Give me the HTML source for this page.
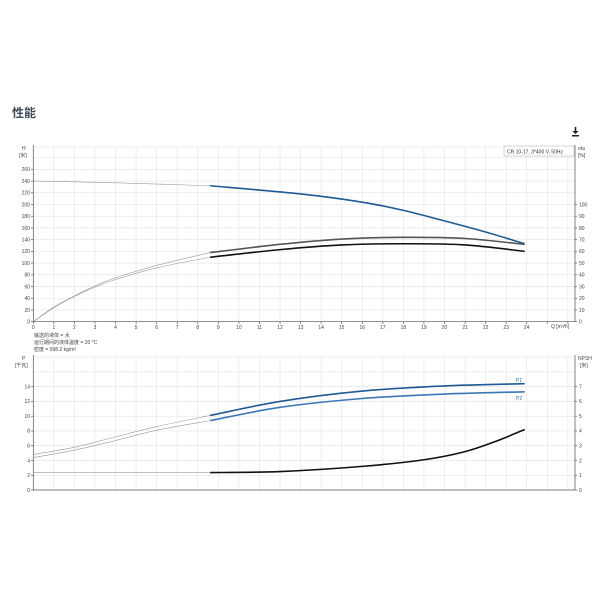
<!DOCTYPE html>
<html><head><meta charset="utf-8"><style>
body{margin:0;background:#fff;width:600px;height:600px;overflow:hidden}
svg{font-family:"Liberation Sans","Noto Sans CJK SC",sans-serif}
</style></head><body>
<svg id="s" width="600" height="600" viewBox="0 0 600 600">
<text x="12" y="117" font-size="12" font-weight="bold" fill="#3d4d5c">性能</text>
<g fill="#222"><rect x="572" y="135" width="7" height="1.5"/><rect x="574.7" y="127" width="1.6" height="5"/><path d="M572.3 131h6.4l-3.2 3z"/></g>
<g id="grid" stroke="#e2e2e2" stroke-width="0.6"></g>
<g id="axes" stroke="#555" stroke-width="0.7" fill="none"></g>
<g font-size="5" fill="#444">
<text x="22" y="150">H</text><text x="19" y="157">[米]</text>
<text x="578" y="150">eta</text><text x="578" y="157">[%]</text>
<g id="lab"></g>
<text x="551" y="328">Q [m³/h]</text>
<text x="34" y="337">输送的液体 = 水</text>
<text x="34" y="344">运行期间的液体温度 = 20 °C</text>
<text x="34" y="351">密度 = 998.2 kg/m³</text>
<text x="22" y="360">P</text><text x="15" y="367">[千瓦]</text>
<text x="578" y="360">NPSH</text><text x="580" y="367">[米]</text>
<text x="516" y="382" fill="#2a6aa8">P1</text>
<text x="516" y="400" fill="#2a6aa8">P2</text>
</g>
<rect x="504" y="146" width="70" height="10" fill="#fff" stroke="#aaa" stroke-width="0.5"/>
<text x="507" y="153.5" font-size="5" fill="#333">CR 10-17, 3*400 V, 50Hz</text>
<g id="curves" fill="none"></g>
</svg>
<script>
const NS="http://www.w3.org/2000/svg";
function el(p,t,a){const e=document.createElementNS(NS,t);for(const k in a)e.setAttribute(k,a[k]);p.appendChild(e);return e;}
const X=q=>33.3+20.56*q, Y=h=>321.7-0.586*h, YB=p=>490-7.38*p, YN=n=>490-14.76*n;
const g=document.getElementById('grid'),ax=document.getElementById('axes');
for(let q=1;q<=26;q++){const x=q<=26?X(q):575;if(x<575){el(g,'line',{x1:x,y1:147,x2:x,y2:321.7});el(g,'line',{x1:x,y1:357,x2:x,y2:490});}}
for(let h=20;h<=280;h+=20)el(g,'line',{x1:33.3,y1:Y(h),x2:575,y2:Y(h)});
for(let p=2;p<=16;p+=2)el(g,'line',{x1:33.3,y1:YB(p),x2:575,y2:YB(p)});
el(g,'rect',{x:33.3,y:147,width:541.7,height:174.7,fill:'none'});
el(g,'rect',{x:33.3,y:357,width:541.7,height:133,fill:'none'});
el(ax,'line',{x1:33.3,y1:145,x2:33.3,y2:322});el(ax,'line',{x1:33.3,y1:321.7,x2:575,y2:321.7});
el(ax,'line',{x1:575,y1:145,x2:575,y2:322});
el(ax,'line',{x1:33.3,y1:355,x2:33.3,y2:490});el(ax,'line',{x1:33.3,y1:490,x2:575,y2:490});
el(ax,'line',{x1:575,y1:355,x2:575,y2:490});
</script>
<script>
const lab=document.getElementById('lab');
function t(x,y,s,anc){const e=el(lab,'text',{x:x,y:y,'text-anchor':anc||'middle'});e.textContent=s;}
</script>
<svg width="0" height="0"></svg>
<script>
// tick marks only (labels are static below)
for(let q=0;q<=26;q++){const x=X(q);if(x<=575)el(ax,'line',{x1:x,y1:321.7,x2:x,y2:324});}
for(let h=0;h<=260;h+=20)el(ax,'line',{x1:31,y1:Y(h),x2:33.3,y2:Y(h)});
for(let e=0;e<=100;e+=10)el(ax,'line',{x1:575,y1:Y(e*2),x2:577,y2:Y(e*2)});
for(let p=0;p<=14;p+=2)el(ax,'line',{x1:31,y1:YB(p),x2:33.3,y2:YB(p)});
for(let n=0;n<=7;n++)el(ax,'line',{x1:575,y1:YN(n),x2:577,y2:YN(n)});
function path(pts,fx,fy){let d='';const P=pts.map(p=>[fx(p[0]),fy(p[1])]);
for(let i=0;i<P.length;i++){if(i==0){d='M'+P[0];continue;}
const p0=P[i-2]||P[i-1],p1=P[i-1],p2=P[i],p3=P[i+1]||P[i];
d+=`C${p1[0]+(p2[0]-p0[0])/6},${p1[1]+(p2[1]-p0[1])/6} ${p2[0]-(p3[0]-p1[0])/6},${p2[1]-(p3[1]-p1[1])/6} ${p2[0]},${p2[1]}`;}return d;}
const C=document.getElementById('curves');
function draw(thin,thick,fy,col){
el(C,'path',{d:path(thin,X,fy),stroke:'#999',"stroke-width":0.6});
el(C,'path',{d:path(thick,X,fy),stroke:col,"stroke-width":1.6});}
draw([[0,240],[4,237],[8.6,232]],[[8.6,232],[13,218],[16,204],[18,190],[20,172],[22,153],[23.9,133]],Y,'#1f5a96');
const E=e=>Y(e*2);
draw([[0,0],[1,12.5],[2,22],[3,30.5],[4,37.5],[6,48],[8.6,59]],[[8.6,59],[12,66],[15,70.5],[18,72],[21,71],[23.9,66]],E,'#555');
draw([[0,0],[1,12],[2,21.5],[3,29.5],[4,36],[6,46],[8.6,55]],[[8.6,55],[12,61.5],[15,65.5],[18,66.5],[21,65.5],[23.9,60]],E,'#111');
draw([[0,4.8],[2,5.8],[4,7.2],[6,8.6],[8.6,10.1]],[[8.6,10.1],[12,12.0],[16,13.4],[20,14.1],[23.9,14.4]],YB,'#1f5a96');
draw([[0,4.4],[2,5.4],[4,6.7],[6,8.1],[8.6,9.4]],[[8.6,9.4],[12,11.2],[16,12.4],[20,13.0],[23.9,13.3]],YB,'#3a78b5');
draw([[0,1.2],[4,1.2],[8.6,1.18]],[[8.6,1.18],[12,1.25],[16,1.6],[19,2.05],[21,2.6],[22.5,3.3],[23.9,4.1]],YN,'#111');
</script>
<svg width="600" height="600" style="position:absolute;left:0;top:0" font-family="Liberation Sans, sans-serif" font-size="5" fill="#444">
<g text-anchor="middle">
<text x="33.3" y="329">0</text><text x="53.9" y="329">1</text><text x="74.4" y="329">2</text><text x="95" y="329">3</text><text x="115.5" y="329">4</text><text x="136.1" y="329">5</text><text x="156.7" y="329">6</text><text x="177.2" y="329">7</text><text x="197.8" y="329">8</text><text x="218.3" y="329">9</text><text x="238.9" y="329">10</text><text x="259.5" y="329">11</text><text x="280" y="329">12</text><text x="300.6" y="329">13</text><text x="321.1" y="329">14</text><text x="341.7" y="329">15</text><text x="362.3" y="329">16</text><text x="382.8" y="329">17</text><text x="403.4" y="329">18</text><text x="423.9" y="329">19</text><text x="444.5" y="329">20</text><text x="465.1" y="329">21</text><text x="485.6" y="329">22</text><text x="506.2" y="329">23</text><text x="526.7" y="329">24</text>
</g>
<g text-anchor="end">
<text x="30" y="323.5">0</text><text x="30" y="311.8">20</text><text x="30" y="300.1">40</text><text x="30" y="288.4">60</text><text x="30" y="276.6">80</text><text x="30" y="264.9">100</text><text x="30" y="253.2">120</text><text x="30" y="241.5">140</text><text x="30" y="229.8">160</text><text x="30" y="218.1">180</text><text x="30" y="206.4">200</text><text x="30" y="194.6">220</text><text x="30" y="182.9">240</text><text x="30" y="171.2">260</text>
<text x="30" y="491.8">0</text><text x="30" y="477">2</text><text x="30" y="462.3">4</text><text x="30" y="447.5">6</text><text x="30" y="432.7">8</text><text x="30" y="418">10</text><text x="30" y="403.2">12</text><text x="30" y="388.5">14</text>
</g>
<g>
<text x="579" y="323.5">0</text><text x="579" y="311.8">10</text><text x="579" y="300.1">20</text><text x="579" y="288.4">30</text><text x="579" y="276.6">40</text><text x="579" y="264.9">50</text><text x="579" y="253.2">60</text><text x="579" y="241.5">70</text><text x="579" y="229.8">80</text><text x="579" y="218.1">90</text><text x="579" y="206.4">100</text>
<text x="579" y="491.8">0</text><text x="579" y="477">1</text><text x="579" y="462.3">2</text><text x="579" y="447.5">3</text><text x="579" y="432.7">4</text><text x="579" y="418">5</text><text x="579" y="403.2">6</text><text x="579" y="388.5">7</text>
</g>
</svg>
</body></html>
